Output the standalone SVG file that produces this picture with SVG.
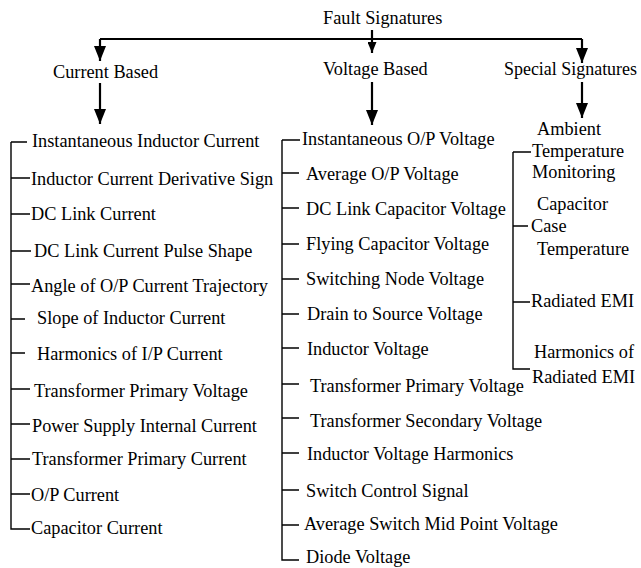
<svg xmlns="http://www.w3.org/2000/svg" width="641" height="568" viewBox="0 0 641 568">
  <style>
    text { font-family: "Liberation Serif", "DejaVu Serif", serif; font-size: 18.3px; fill: #000; }
    .main { stroke: #000; stroke-width: 2.2; fill: none; }
    .tree { stroke: #000; stroke-width: 1.4; fill: none; }
  </style>
  <defs>
    <marker id="arrow-big" viewBox="0 0 15 12" refX="15" refY="6" markerWidth="15" markerHeight="12" markerUnits="userSpaceOnUse" orient="auto">
      <path d="M0,0 L15,6 L0,12 Z" fill="#000"/>
    </marker>
    <marker id="arrow-small" viewBox="0 0 11 9" refX="11" refY="4.5" markerWidth="11" markerHeight="9" markerUnits="userSpaceOnUse" orient="auto">
      <path d="M0,0 L11,4.5 L0,9 Z" fill="#000"/>
    </marker>
  </defs>

  <!-- root -->
  <g id="root">
    <text x="323" y="24">Fault Signatures</text>
  </g>

  <!-- category headings -->
  <g id="current-based"><text x="53" y="78">Current Based</text></g>
  <g id="voltage-based"><text x="323" y="75">Voltage Based</text></g>
  <g id="special-signatures"><text x="504" y="75" textLength="133" lengthAdjust="spacingAndGlyphs">Special Signatures</text></g>

  <!-- connectors -->
  <g id="connectors">
    <path class="main" d="M100,39 H582"/>
    <path class="main" d="M100,39 V61" marker-end="url(#arrow-big)"/>
    <path class="main" d="M372,30 V53" marker-end="url(#arrow-small)"/>
    <path class="main" d="M582,39 V63" marker-end="url(#arrow-big)"/>
    <path class="main" d="M100,83 V124" marker-end="url(#arrow-big)"/>
    <path class="main" d="M372,82 V125" marker-end="url(#arrow-big)"/>
    <path class="main" d="M582,82 V118" marker-end="url(#arrow-big)"/>

    <!-- current based tree -->
    <path class="tree" d="M11,142 V529 H30"/>
    <path class="tree" d="M11,142 H27 M11,178 H30 M11,214 H30 M11,251 H31 M11,284 H30 M11,319 H25 M11,353 H25 M11,389 H30 M11,424 H30 M11,459 H30 M11,494 H30"/>

    <!-- voltage based tree -->
    <path class="tree" d="M282,140 V560 H299"/>
    <path class="tree" d="M282,140 H300 M282,173 H299 M282,208 H299 M282,244 H299 M282,279 H299 M282,314 H299 M282,348 H299 M282,384 H299 M282,418 H299 M282,453 H299 M282,490 H299 M282,525 H299"/>

    <!-- special signatures tree -->
    <path class="tree" d="M513,152 V369 H530"/>
    <path class="tree" d="M513,152 H531 M513,226 H528 M513,302 H530"/>
  </g>

  <!-- current based leaves -->
  <g id="c1"><text x="32" y="147">Instantaneous Inductor Current</text></g>
  <g id="c2"><text x="31" y="185">Inductor Current Derivative Sign</text></g>
  <g id="c3"><text x="31" y="220">DC Link Current</text></g>
  <g id="c4"><text x="34" y="257">DC Link Current Pulse Shape</text></g>
  <g id="c5"><text x="31" y="292">Angle of O/P Current Trajectory</text></g>
  <g id="c6"><text x="37" y="324">Slope of Inductor Current</text></g>
  <g id="c7"><text x="37" y="360">Harmonics of I/P Current</text></g>
  <g id="c8"><text x="34" y="397">Transformer Primary Voltage</text></g>
  <g id="c9"><text x="32" y="432">Power Supply Internal Current</text></g>
  <g id="c10"><text x="32" y="465">Transformer Primary Current</text></g>
  <g id="c11"><text x="31" y="501">O/P Current</text></g>
  <g id="c12"><text x="31" y="534">Capacitor Current</text></g>

  <!-- voltage based leaves -->
  <g id="v1"><text x="302" y="145">Instantaneous O/P Voltage</text></g>
  <g id="v2"><text x="306" y="180">Average O/P Voltage</text></g>
  <g id="v3"><text x="306" y="215">DC Link Capacitor Voltage</text></g>
  <g id="v4"><text x="306" y="250">Flying Capacitor Voltage</text></g>
  <g id="v5"><text x="306" y="285">Switching Node Voltage</text></g>
  <g id="v6"><text x="307" y="320">Drain to Source Voltage</text></g>
  <g id="v7"><text x="307" y="355">Inductor Voltage</text></g>
  <g id="v8"><text x="310" y="392">Transformer Primary Voltage</text></g>
  <g id="v9"><text x="310" y="427">Transformer Secondary Voltage</text></g>
  <g id="v10"><text x="307" y="460">Inductor Voltage Harmonics</text></g>
  <g id="v11"><text x="306" y="497">Switch Control Signal</text></g>
  <g id="v12"><text x="304" y="530">Average Switch Mid Point Voltage</text></g>
  <g id="v13"><text x="306" y="563">Diode Voltage</text></g>

  <!-- special signatures leaves -->
  <g id="s1">
    <text x="537" y="135">Ambient</text>
    <text x="532" y="157">Temperature</text>
    <text x="532" y="178">Monitoring</text>
  </g>
  <g id="s2">
    <text x="537" y="210">Capacitor</text>
    <text x="531" y="232">Case</text>
    <text x="537" y="255">Temperature</text>
  </g>
  <g id="s3"><text x="531" y="307">Radiated EMI</text></g>
  <g id="s4">
    <text x="534" y="358">Harmonics of</text>
    <text x="532" y="383">Radiated EMI</text>
  </g>
</svg>
